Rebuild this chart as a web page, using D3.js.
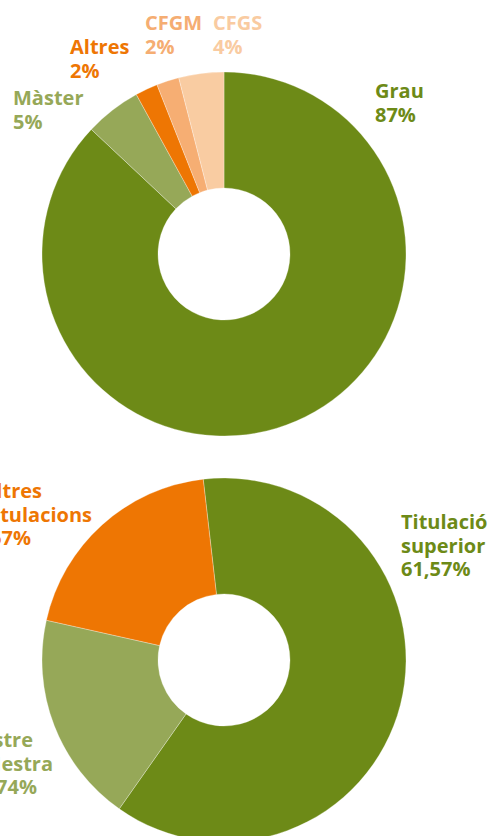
<!DOCTYPE html>
<html>
<head>
<meta charset="utf-8">
<script src="https://cdn.jsdelivr.net/npm/d3@7/dist/d3.min.js"></script>
<style>
  html, body { margin: 0; padding: 0; background: #ffffff; }
  svg { display: block; }
  text { font-family: "Open Sans", "Noto Sans", sans-serif; font-weight: 700; font-size: 20px; }
</style>
</head>
<body>
<svg id="chart" width="492" height="836"></svg>
<script>
// Studies completed: degree breakdown (integer percentages)
const degreeNames  = [["Grau"], ["Màster"], ["Altres"], ["CFGM"], ["CFGS"]];
const degreeShares = [87, 5, 2, 2, 4];
const degreeColors = ["#6d8a17", "#96a858", "#ee7603", "#f6ae73", "#f9cca2"];
const degreeLabelColors = ["#6d8a17", "#96a858", "#ee7603", "#f5ad72", "#f9cba1"];

// Qualification breakdown (two-decimal percentages)
const titleNames  = [["Titulació", "superior"], ["Mestre", "Mestra"], ["Altres", "titulacions"]];
const titleShares = [61.57, 18.74, 19.67];
const titleColors = ["#6d8a17", "#96a858", "#ee7603"];

// Label placement: first baseline, text anchor and the x of every line
const degreeLabelY = [98, 105, 54, 30, 30];
const degreeLabelX = [[375, 375], [13, 13], [70, 70], [145, 145], [213, 213]];
const degreeAnchor = ["start", "start", "start", "start", "start"];
const titleLabelY  = [529, 747, 498];
const titleLabelX  = [[401, 401, 401], [33, 53, 37], [42, 92, 31]];
const titleAnchor  = ["start", "end", "end"];

const svg = d3.select("#chart");
const lineH = 23.5;
const inner = 66, outer = 182;
const arc = d3.arc().innerRadius(inner).outerRadius(outer);

const caLocale = d3.formatLocale({ decimal: ",", thousands: ".", grouping: [3], currency: ["", "€"] });
const fmtInt = v => caLocale.format("d")(v) + "%";
const fmtDec = v => caLocale.format(".2f")(v) + "%";

function donut(cx, cy, shares, colors, start) {
  const pie = d3.pie().sort(null).value(d => d)
    .startAngle(start).endAngle(start + 2 * Math.PI);
  const g = svg.append("g").attr("transform", `translate(${cx},${cy})`);
  g.selectAll("path")
    .data(pie(shares))
    .join("path")
    .attr("d", arc)
    .attr("fill", (d, i) => colors[i])
    .attr("stroke", "#ffffff")
    .attr("stroke-width", 0.3);
}

function labels(names, shares, colors, ys, xs, anchors, fmt) {
  names.forEach((lines, i) => {
    const g = svg.append("g").attr("fill", colors[i]).attr("text-anchor", anchors[i]);
    lines.concat([fmt(shares[i])]).forEach((s, k) => {
      g.append("text")
        .attr("x", xs[i][k])
        .attr("y", ys[i] + k * lineH)
        .text(s);
    });
  });
}

donut(224, 254, degreeShares, degreeColors, 0);
labels(degreeNames, degreeShares, degreeLabelColors, degreeLabelY, degreeLabelX, degreeAnchor, fmtInt);

donut(224, 660, titleShares, titleColors, -0.1145);
labels(titleNames, titleShares, titleColors, titleLabelY, titleLabelX, titleAnchor, fmtDec);
</script>
</body>
</html>
